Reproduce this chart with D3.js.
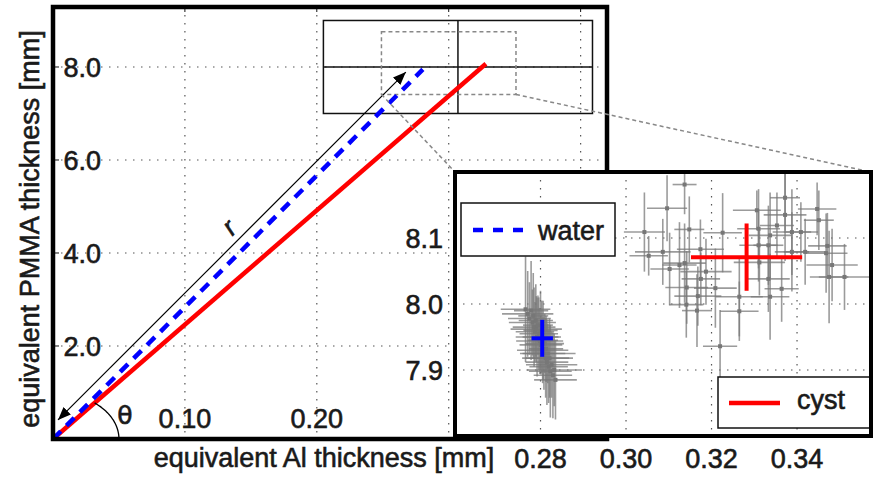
<!DOCTYPE html>
<html lang="en">
<head>
<meta charset="utf-8">
<title>Equivalent thickness</title>
<script src="https://d3js.org/d3.v7.min.js"></script>
<style>
  body { margin: 0; background: white; }
  svg { display: block; }
  text { font-family: "Liberation Sans", Arial, sans-serif; fill: #1a1a1a; stroke: #1a1a1a; stroke-width: 0.6px; }
</style>
</head>
<body>
<svg width="873" height="477"></svg>
<script>
// ---- data ----
const mainXTicks = [0.1, 0.2, 0.3, 0.4];
const mainYTicks = [2, 4, 6, 8];
const mainXLabels = ["0.10", "0.20"];
const mainYLabels = ["2.0", "4.0", "6.0", "8.0"];
const insetXTicks = [0.28, 0.30, 0.32, 0.34];
const insetYTicks = [7.9, 8.0, 8.1];

// mean points (x, y) and their error half-widths
const waterMean = [0.2804, 7.948];
const waterMeanErr = [0.0025, 0.028];
const cystMean = [0.3282, 8.071];
const cystMeanErr = [0.013, 0.051];

// individual measurements, water
const waterX  = [0.2765, 0.2770, 0.2774, 0.2778, 0.2781, 0.2783, 0.2785, 0.2787, 0.2789, 0.2790, 0.2792, 0.2794, 0.2796, 0.2798, 0.2800, 0.2801, 0.2803, 0.2805, 0.2806, 0.2808, 0.2810, 0.2812, 0.2813, 0.2815, 0.2817, 0.2819, 0.2821, 0.2823, 0.2826, 0.2829, 0.2832, 0.2835];
const waterY  = [7.992, 7.985, 7.978, 7.990, 7.972, 7.982, 7.965, 7.958, 7.975, 7.962, 7.950, 7.968, 7.955, 7.944, 7.960, 7.938, 7.950, 7.930, 7.945, 7.925, 7.940, 7.918, 7.932, 7.912, 7.925, 7.905, 7.918, 7.898, 7.908, 7.892, 7.900, 7.885];
const waterEx = [0.0058, 0.0060, 0.0050, 0.0040, 0.0055, 0.0035, 0.0050, 0.0045, 0.0040, 0.0060, 0.0050, 0.0035, 0.0045, 0.0055, 0.0040, 0.0050, 0.0045, 0.0060, 0.0035, 0.0050, 0.0045, 0.0055, 0.0040, 0.0050, 0.0065, 0.0045, 0.0055, 0.0050, 0.0060, 0.0045, 0.0065, 0.0050];
const waterEy = [0.080, 0.065, 0.055, 0.075, 0.050, 0.065, 0.060, 0.045, 0.055, 0.050, 0.060, 0.045, 0.055, 0.050, 0.060, 0.045, 0.055, 0.050, 0.060, 0.055, 0.045, 0.060, 0.050, 0.065, 0.045, 0.055, 0.060, 0.070, 0.050, 0.065, 0.055, 0.060];

// individual measurements, cyst
const cystX  = [0.3137, 0.3096, 0.3043, 0.3148, 0.3086, 0.3053, 0.3102, 0.3125, 0.3137, 0.3174, 0.3187, 0.3175, 0.3142, 0.3168, 0.3141, 0.3166, 0.3306, 0.3226, 0.3310, 0.3353, 0.3337, 0.3310, 0.3312, 0.3333, 0.3265, 0.3265, 0.3333, 0.3337, 0.3364, 0.3220, 0.3372, 0.3372, 0.3388, 0.3409, 0.3447, 0.3451, 0.3419, 0.3388, 0.3471, 0.3468, 0.3482, 0.3475, 0.3511, 0.3209];
const cystY  = [8.181, 8.145, 8.109, 8.113, 8.079, 8.073, 8.053, 8.059, 8.062, 8.083, 8.049, 8.038, 8.025, 8.012, 7.999, 7.990, 8.142, 8.108, 8.114, 8.119, 8.104, 8.089, 8.063, 8.089, 8.011, 7.989, 8.038, 8.011, 8.023, 7.936, 8.161, 8.135, 8.109, 8.109, 8.144, 8.127, 8.079, 8.079, 8.088, 8.077, 8.059, 8.041, 8.041, 8.024];
const cystEx = [0.0028, 0.0047, 0.0048, 0.0035, 0.0065, 0.0045, 0.0045, 0.0040, 0.0050, 0.0055, 0.0060, 0.0045, 0.0050, 0.0055, 0.0040, 0.0035, 0.0056, 0.0045, 0.0050, 0.0040, 0.0050, 0.0045, 0.0060, 0.0035, 0.0055, 0.0045, 0.0050, 0.0045, 0.0040, 0.0040, 0.0035, 0.0050, 0.0045, 0.0040, 0.0045, 0.0035, 0.0050, 0.0040, 0.0045, 0.0050, 0.0060, 0.0045, 0.0060, 0.0050];
const cystEy = [0.045, 0.050, 0.060, 0.050, 0.050, 0.030, 0.055, 0.065, 0.060, 0.045, 0.050, 0.040, 0.055, 0.045, 0.050, 0.055, 0.030, 0.060, 0.060, 0.050, 0.065, 0.055, 0.050, 0.060, 0.060, 0.045, 0.050, 0.065, 0.050, 0.055, 0.050, 0.070, 0.065, 0.045, 0.040, 0.045, 0.050, 0.060, 0.050, 0.060, 0.055, 0.070, 0.050, 0.060];

// annotation geometry in data units of the main plot
const zoomBox = [0.205, 0.409, 7.0, 9.0];
const dashBox = [0.249, 0.351, 7.41, 8.76];
const arrowEnds = [[0.0038, 0.41], [0.2675, 7.89]];
const arcRadii = [0.05, 1.0];
const thetaPos = [0.0546, 0.52];
const rPos = [0.1334, 4.56];

// ---- layout ----
const svg = d3.select("svg");
const main = { left: 53, right: 607, top: 7, bottom: 439 };
const ins = { left: 455, right: 871, top: 172, bottom: 436 };
const fontSize = 27;

const x = d3.scaleLinear().domain([0, 0.42]).range([main.left, main.right]);
const y = d3.scaleLinear().domain([0, 9.29]).range([main.bottom, main.top]);
const xi = d3.scaleLinear().domain([0.26, 0.3573]).range([ins.left, ins.right]);
const yi = d3.scaleLinear().domain([7.80, 8.20]).range([ins.bottom, ins.top]);

svg.append("defs").append("clipPath").attr("id", "insetClip")
  .append("rect")
  .attr("x", ins.left).attr("y", ins.top)
  .attr("width", ins.right - ins.left).attr("height", ins.bottom - ins.top);

svg.select("defs").append("marker")
  .attr("id", "head")
  .attr("viewBox", "0 0 10 10")
  .attr("refX", 10).attr("refY", 5)
  .attr("markerWidth", 13).attr("markerHeight", 13)
  .attr("markerUnits", "userSpaceOnUse")
  .attr("orient", "auto-start-reverse")
  .append("path").attr("d", "M0,1 L10,5 L0,9 z").attr("fill", "black");

// ---- main plot ----
const grid = svg.append("g").attr("stroke", "#555").attr("stroke-width", 1.2)
  .attr("stroke-dasharray", "1.5,6.5");
grid.selectAll(".gx").data(mainXTicks).join("line")
  .attr("x1", d => x(d)).attr("x2", d => x(d))
  .attr("y1", main.top).attr("y2", main.bottom);
grid.selectAll(".gy").data(mainYTicks).join("line")
  .attr("y1", d => y(d)).attr("y2", d => y(d))
  .attr("x1", main.left).attr("x2", main.right);

// zoom indicator: solid box with centre cross, dashed grey box
const zb = svg.append("g").attr("fill", "none").attr("stroke", "#111").attr("stroke-width", 1.5);
zb.append("rect")
  .attr("x", x(zoomBox[0])).attr("y", y(zoomBox[3]))
  .attr("width", x(zoomBox[1]) - x(zoomBox[0])).attr("height", y(zoomBox[2]) - y(zoomBox[3]));
zb.append("line")
  .attr("x1", x((zoomBox[0] + zoomBox[1]) / 2)).attr("x2", x((zoomBox[0] + zoomBox[1]) / 2))
  .attr("y1", y(zoomBox[3])).attr("y2", y(zoomBox[2]));
zb.append("line")
  .attr("x1", x(zoomBox[0])).attr("x2", x(zoomBox[1]))
  .attr("y1", y((zoomBox[2] + zoomBox[3]) / 2)).attr("y2", y((zoomBox[2] + zoomBox[3]) / 2));

svg.append("rect")
  .attr("x", x(dashBox[0])).attr("y", y(dashBox[3]))
  .attr("width", x(dashBox[1]) - x(dashBox[0])).attr("height", y(dashBox[2]) - y(dashBox[3]))
  .attr("fill", "none").attr("stroke", "#888").attr("stroke-width", 1.5)
  .attr("stroke-dasharray", "4,3");

// arrow r
svg.append("line")
  .attr("x1", x(arrowEnds[1][0])).attr("y1", y(arrowEnds[1][1]))
  .attr("x2", x(arrowEnds[0][0])).attr("y2", y(arrowEnds[0][1]))
  .attr("stroke", "black").attr("stroke-width", 1.2)
  .attr("marker-start", "url(#head)").attr("marker-end", "url(#head)");

// mean lines from origin
svg.append("line")
  .attr("x1", x(0)).attr("y1", y(0)).attr("x2", x(cystMean[0])).attr("y2", y(cystMean[1]))
  .attr("stroke", "#ff0000").attr("stroke-width", 4.5);
svg.append("line")
  .attr("x1", x(0)).attr("y1", y(0)).attr("x2", x(waterMean[0])).attr("y2", y(waterMean[1]))
  .attr("stroke", "#0000ff").attr("stroke-width", 4.5).attr("stroke-dasharray", "11,8");

// theta arc (ellipse in data units), up to the cyst line
const tEnd = Math.atan((cystMean[1] / cystMean[0]) * arcRadii[0] / arcRadii[1]);
const arcPts = d3.range(0, 41).map(i => {
  const t = tEnd * i / 40;
  return [x(arcRadii[0] * Math.cos(t)), y(arcRadii[1] * Math.sin(t))];
});
svg.append("path").attr("d", d3.line()(arcPts))
  .attr("fill", "none").attr("stroke", "black").attr("stroke-width", 1.3);

svg.append("text").attr("x", x(thetaPos[0])).attr("y", y(thetaPos[1]))
  .attr("text-anchor", "middle").attr("dy", "0.35em")
  .style("font-family", "'DejaVu Sans', sans-serif").style("font-size", "25px")
  .text("θ");
svg.append("text")
  .attr("transform", `translate(${x(rPos[0])},${y(rPos[1])}) rotate(-45)`)
  .attr("text-anchor", "middle").attr("dy", "0.35em")
  .style("font-size", "26px").style("font-style", "italic")
  .text("r");

// tick marks and labels of the main plot
const tk = svg.append("g").attr("stroke", "#111").attr("stroke-width", 1);
tk.selectAll(".tx").data(mainXTicks).join("line")
  .attr("x1", d => x(d)).attr("x2", d => x(d)).attr("y1", main.top).attr("y2", main.top + 5);
tk.selectAll(".ty").data(mainYTicks).join("line")
  .attr("y1", d => y(d)).attr("y2", d => y(d)).attr("x1", main.left).attr("x2", main.left + 6);

svg.selectAll(".mxl").data(mainXLabels).join("text")
  .attr("x", (d, i) => x(mainXTicks[i])).attr("y", main.bottom - 11)
  .attr("text-anchor", "middle").style("font-size", fontSize + "px").text(d => d);
svg.selectAll(".myl").data(mainYLabels).join("text")
  .attr("x", 101).attr("y", (d, i) => y(mainYTicks[i])).attr("dy", "0.36em")
  .attr("text-anchor", "end").style("font-size", fontSize + "px").text(d => d);

// frame of main plot
svg.append("rect")
  .attr("x", main.left).attr("y", main.top)
  .attr("width", main.right - main.left).attr("height", main.bottom - main.top)
  .attr("fill", "none").attr("stroke", "black").attr("stroke-width", 4.5);

// axis titles
svg.append("text").attr("x", 324).attr("y", 467).attr("text-anchor", "middle")
  .style("font-size", fontSize + "px").text("equivalent Al thickness [mm]");
svg.append("text").attr("transform", "translate(39,229) rotate(-90)").attr("text-anchor", "middle")
  .style("font-size", fontSize + "px").text("equivalent PMMA thickness [mm]");

// connector lines to the inset
const conn = svg.append("g").attr("stroke", "#888").attr("stroke-width", 1.5).attr("stroke-dasharray", "4,3");
conn.append("line").attr("x1", x(dashBox[0])).attr("y1", y(dashBox[2])).attr("x2", ins.left).attr("y2", ins.top);
conn.append("line").attr("x1", x(dashBox[1])).attr("y1", y(dashBox[2])).attr("x2", ins.right).attr("y2", ins.top);

// ---- inset ----
svg.append("rect")
  .attr("x", ins.left).attr("y", ins.top)
  .attr("width", ins.right - ins.left).attr("height", ins.bottom - ins.top)
  .attr("fill", "white");

const inner = svg.append("g").attr("clip-path", "url(#insetClip)");
const ig = inner.append("g").attr("stroke", "#555").attr("stroke-width", 1.2).attr("stroke-dasharray", "1.5,6.5");
ig.selectAll(".ix").data(insetXTicks).join("line")
  .attr("x1", d => xi(d)).attr("x2", d => xi(d)).attr("y1", ins.top).attr("y2", ins.bottom);
ig.selectAll(".iy").data(insetYTicks).join("line")
  .attr("y1", d => yi(d)).attr("y2", d => yi(d)).attr("x1", ins.left).attr("x2", ins.right);

function errorbars(xs, ys, exs, eys) {
  const g = inner.append("g");
  const pts = xs.map((v, i) => ({ x: v, y: ys[i], ex: exs[i], ey: eys[i] }));
  g.selectAll(".h").data(pts).join("line")
    .attr("x1", d => xi(d.x - d.ex)).attr("x2", d => xi(d.x + d.ex))
    .attr("y1", d => yi(d.y)).attr("y2", d => yi(d.y))
    .attr("stroke", "#7a7a7a").attr("stroke-opacity", 0.75).attr("stroke-width", 1.6);
  g.selectAll(".v").data(pts).join("line")
    .attr("x1", d => xi(d.x)).attr("x2", d => xi(d.x))
    .attr("y1", d => yi(d.y - d.ey)).attr("y2", d => yi(d.y + d.ey))
    .attr("stroke", "#7a7a7a").attr("stroke-opacity", 0.75).attr("stroke-width", 1.6);
  g.selectAll("rect").data(pts).join("rect")
    .attr("x", d => xi(d.x) - 2).attr("y", d => yi(d.y) - 2)
    .attr("width", 4).attr("height", 4).attr("fill", "#777");
}
errorbars(waterX, waterY, waterEx, waterEy);
errorbars(cystX, cystY, cystEx, cystEy);

function meanCross(m, e, colour) {
  inner.append("line")
    .attr("x1", xi(m[0] - e[0])).attr("x2", xi(m[0] + e[0])).attr("y1", yi(m[1])).attr("y2", yi(m[1]))
    .attr("stroke", colour).attr("stroke-width", 4);
  inner.append("line")
    .attr("x1", xi(m[0])).attr("x2", xi(m[0])).attr("y1", yi(m[1] - e[1])).attr("y2", yi(m[1] + e[1]))
    .attr("stroke", colour).attr("stroke-width", 4);
}
meanCross(waterMean, waterMeanErr, "#0000ff");
meanCross(cystMean, cystMeanErr, "#ff0000");

// legends
const lw = svg.append("g");
lw.append("rect").attr("x", 461).attr("y", 203).attr("width", 154).attr("height", 53)
  .attr("fill", "white").attr("stroke", "#111").attr("stroke-width", 1.5);
lw.append("line").attr("x1", 473).attr("x2", 526).attr("y1", 230).attr("y2", 230)
  .attr("stroke", "#0000ff").attr("stroke-width", 4.5).attr("stroke-dasharray", "10,10");
lw.append("text").attr("x", 538).attr("y", 240).style("font-size", fontSize + "px").text("water");

const lc = svg.append("g");
lc.append("rect").attr("x", 718).attr("y", 377).attr("width", 153).attr("height", 51)
  .attr("fill", "white").attr("stroke", "#111").attr("stroke-width", 1.5);
lc.append("line").attr("x1", 729).attr("x2", 780).attr("y1", 403).attr("y2", 403)
  .attr("stroke", "#ff0000").attr("stroke-width", 4.5);
lc.append("text").attr("x", 797).attr("y", 409).style("font-size", fontSize + "px").text("cyst");

// inset frame and tick labels
svg.append("rect")
  .attr("x", ins.left).attr("y", ins.top)
  .attr("width", ins.right - ins.left).attr("height", ins.bottom - ins.top)
  .attr("fill", "none").attr("stroke", "black").attr("stroke-width", 4);

svg.selectAll(".ixl").data(insetXTicks).join("text")
  .attr("x", d => xi(d)).attr("y", 468).attr("text-anchor", "middle")
  .style("font-size", fontSize + "px").text(d => d.toFixed(2));
svg.selectAll(".iyl").data(insetYTicks).join("text")
  .attr("x", 443).attr("y", d => yi(d)).attr("dy", "0.36em").attr("text-anchor", "end")
  .style("font-size", fontSize + "px").text(d => d.toFixed(1));
</script>
</body>
</html>
